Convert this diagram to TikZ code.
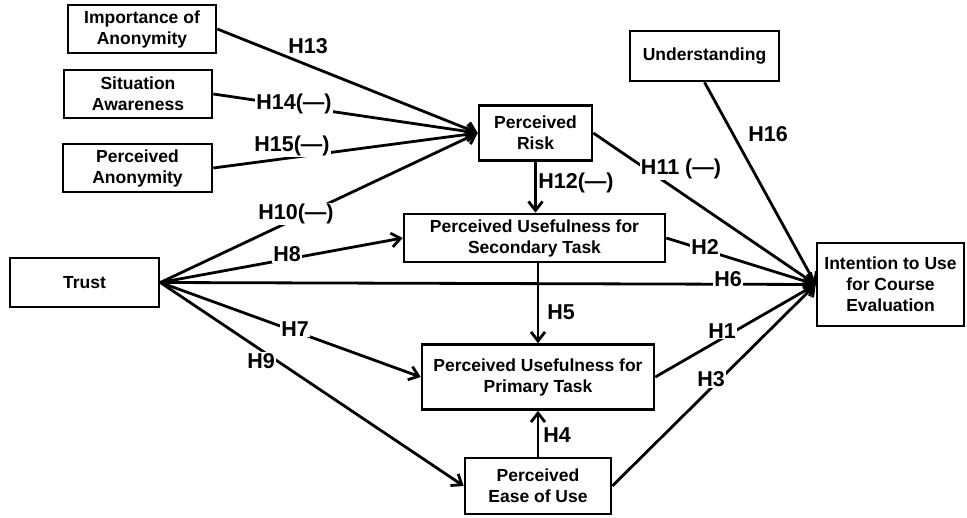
\documentclass[tikz,border=0pt]{standalone}
\usepackage{fontspec}
\setmainfont{Liberation Sans}
\usetikzlibrary{arrows.meta}
\begin{document}
\begin{tikzpicture}[x=1pt,y=-1pt,
  box/.style={draw, line width=2.6pt, inner sep=0pt, align=center,
    font=\fontsize{17.5}{21}\selectfont\bfseries},
  arr/.style={line width=2.8pt, -{Straight Barb[length=9pt,width=14pt]}},
  conn/.style={line width=2.8pt},
  lbl/.style={font=\fontsize{21.5}{24}\selectfont\bfseries, inner sep=1pt},
  lblw/.style={lbl, fill=white}]
\useasboundingbox (0,0) rectangle (967,518);

% boxes
\node[box, minimum width=148pt, minimum height=48pt] (imp) at (142,29) {Importance of\\Anonymity};
\node[box, minimum width=148pt, minimum height=48pt] (sit) at (138,94) {Situation\\Awareness};
\node[box, minimum width=149pt, minimum height=48pt] (panon) at (137.5,168) {Perceived\\Anonymity};
\node[box, minimum width=113pt, minimum height=55pt] (risk) at (535.5,133) {Perceived\\Risk};
\node[box, minimum width=149pt, minimum height=50pt] (und) at (704.5,56) {Understanding};
\node[box, minimum width=149pt, minimum height=49pt] (trust) at (84.5,282.5) {Trust};
\node[box, minimum width=261pt, minimum height=48pt] (pus) at (534.5,238) {Perceived Usefulness for\\Secondary Task};
\node[box, minimum width=232pt, minimum height=65pt] (pup) at (538,377) {Perceived Usefulness for\\Primary Task};
\node[box, minimum width=146pt, minimum height=56pt] (peou) at (538,486) {Perceived\\Ease of Use};
\node[box, minimum width=147pt, minimum height=83pt] (intent) at (890.5,284.5) {Intention to Use\\for Course\\Evaluation};

% connectors into Perceived Risk
\draw[arr] (imp.east) -- (risk.west);
\draw[arr] (sit.east) -- (risk.west);
\draw[arr] (panon.east) -- (risk.west);
\draw[arr] (trust.east) -- (risk.west);

% from Trust
\draw[arr] (trust.east) -- (pus.west);
\draw[arr] (trust.east) -- (intent.west);
\draw[arr] (trust.east) -- (pup.west);
\draw[arr] (trust.east) -- (peou.west);

% vertical arrows
\draw[arr] (risk.south) -- (risk.south |- pus.north);
\draw[arr] (pup.north |- pus.south) -- (pup.north);
\draw[arr] (peou.north) -- (pup.south);

% into Intention
\draw[arr] (risk.east) -- (intent.west);
\draw[arr] (pus.east) -- (intent.west);
\draw[arr] (pup.east) -- (intent.west);
\draw[arr] (peou.east) -- (intent.west);
\draw[arr] (und.south) -- (intent.west);

% labels
\node[lbl] (l13) at (308,46) {H13};
\node[lblw] (l14) at (294,104) {H14(—)};
\node[lblw] (l15) at (292,146) {H15(—)};
\node[lblw] (l10) at (296,214) {H10(—)};
\node[lblw] (l8) at (287,254) {H8};
\node[lblw] (l6) at (728,279) {H6};
\node[lblw] (l7) at (295,329) {H7};
\node[lblw] (l9) at (261,361) {H9};
\node[lbl] (l12) at (576,183) {H12(—)};
\node[lblw] (l11) at (681,169) {H11 (—)};
\node[lbl] (l16) at (768,134) {H16};
\node[lblw] (l2) at (705,247) {H2};
\node[lbl] (l5) at (561,312) {H5};
\node[lblw] (l1) at (722,331) {H1};
\node[lblw] (l3) at (711,379) {H3};
\node[lbl] (l4) at (557,435) {H4};
\end{tikzpicture}
\end{document}
